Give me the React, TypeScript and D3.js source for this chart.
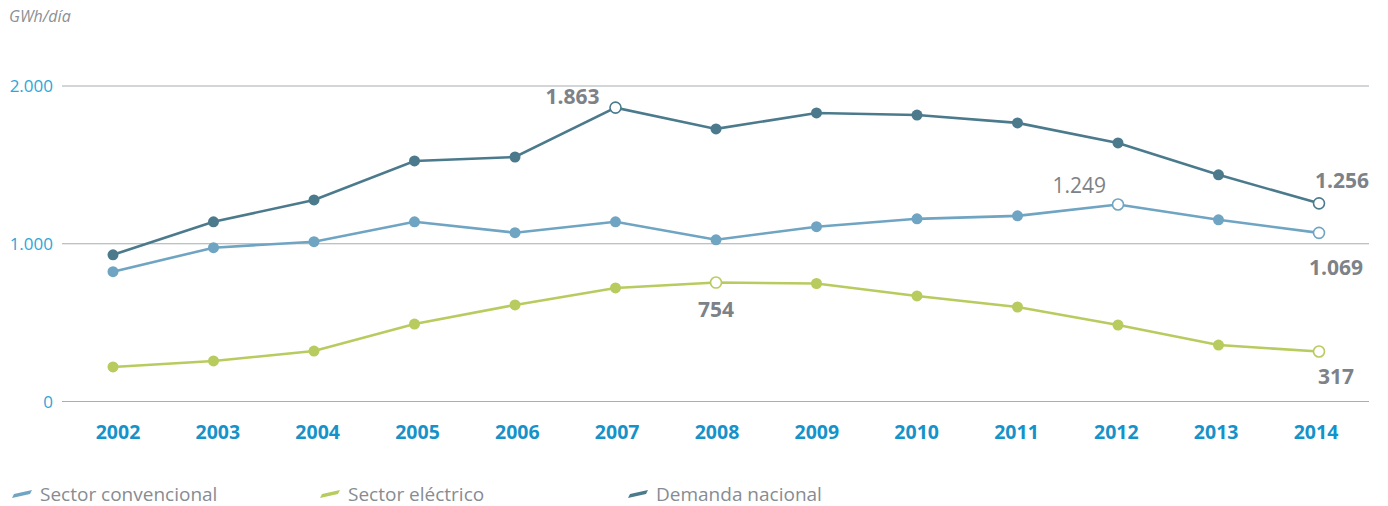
import React from "react";
import * as d3 from "d3";

const years = [2002, 2003, 2004, 2005, 2006, 2007, 2008, 2009, 2010, 2011, 2012, 2013, 2014];
const demanda = [930, 1139, 1278, 1525, 1550, 1863, 1728, 1829, 1816, 1766, 1639, 1437, 1256];
const convencional = [823, 975, 1013, 1139, 1070, 1139, 1025, 1108, 1158, 1177, 1249, 1152, 1069];
const electrico = [219, 257, 320, 491, 612, 720, 754, 748, 669, 599, 485, 358, 317];
const yTicks = [0, 1000, 2000];
const yTickLabels = ["0", "1.000", "2.000"];

const series = [
  { name: "Sector convencional", values: convencional, color: "#6fa4c3", open: [2012, 2014] },
  { name: "Sector eléctrico", values: electrico, color: "#b8cb5e", open: [2008, 2014] },
  { name: "Demanda nacional", values: demanda, color: "#4b7a8d", open: [2007, 2014] },
];

const annotations = [
  { year: 2007, value: 1863, text: "1.863", dx: -16, dy: -4, anchor: "end", bold: true },
  { year: 2014, value: 1256, text: "1.256", dx: -4, dy: -15, anchor: "start", bold: true },
  { year: 2012, value: 1249, text: "1.249", dx: -12, dy: -11, anchor: "end", bold: false },
  { year: 2014, value: 1069, text: "1.069", dx: 44, dy: 42, anchor: "end", bold: true },
  { year: 2008, value: 754, text: "754", dx: 0, dy: 34, anchor: "middle", bold: true },
  { year: 2014, value: 317, text: "317", dx: 17, dy: 33, anchor: "middle", bold: true },
];

export default function App() {
  const W = 1388, H = 506;
  const x = d3.scaleLinear().domain([2002, 2014]).range([113, 1319]);
  const xLabel = d3.scaleLinear().domain([2002, 2014]).range([118, 1316]);
  const y = d3.scaleLinear().domain([0, 2000]).range([401.5, 86]);
  const line = d3.line<number>().x((_, i) => x(years[i])).y((v) => y(v));
  const font = "'Open Sans', 'Noto Sans', sans-serif";
  const legendX = [12, 320, 628];

  return (
    <svg width={W} height={H} style={{ position: "absolute", left: 0, top: 0, background: "#fff" }} fontFamily={font}>
      <text x={9} y={22} fontSize={16} fontStyle="italic" fill="#8a9096">GWh/día</text>
      {yTicks.map((t, i) => (
        <g key={t}>
          <line x1={62} x2={1369} y1={y(t)} y2={y(t)} stroke="#a7adb3" strokeWidth={1.2} />
          <text x={53} y={y(t) + 6} fontSize={17} textAnchor="end" fill="#2ea6d6">{yTickLabels[i]}</text>
        </g>
      ))}
      {years.map((yr) => (
        <text key={yr} x={xLabel(yr)} y={438.5} fontSize={19.5} fontWeight={700} textAnchor="middle" fill="#1592c9">{yr}</text>
      ))}
      {series.map((s) => (
        <g key={s.name}>
          <path d={line(s.values) || ""} fill="none" stroke={s.color} strokeWidth={2.6} />
          {s.values.map((v, i) => {
            const open = s.open.includes(years[i]);
            return (
              <circle key={i} cx={x(years[i])} cy={y(v)} r={5.5}
                fill={open ? "#fff" : s.color} stroke={s.color} strokeWidth={open ? 1.6 : 0} />
            );
          })}
        </g>
      ))}
      {annotations.map((a, i) => (
        <text key={i} x={x(a.year) + a.dx} y={y(a.value) + a.dy} fontSize={21} fontWeight={a.bold ? 700 : 400}
          textAnchor={a.anchor as any} fill="#7c8288">{a.text}</text>
      ))}
      {series.map((s, i) => (
        <g key={s.name} transform={`translate(${legendX[i]},494)`}>
          <path d="M2,2 L20,-2 L18,2 L0,6 Z" transform="translate(0,-2)" fill={s.color} />
          <text x={28} y={7} fontSize={19} fill="#868c92">{s.name}</text>
        </g>
      ))}
    </svg>
  );
}
